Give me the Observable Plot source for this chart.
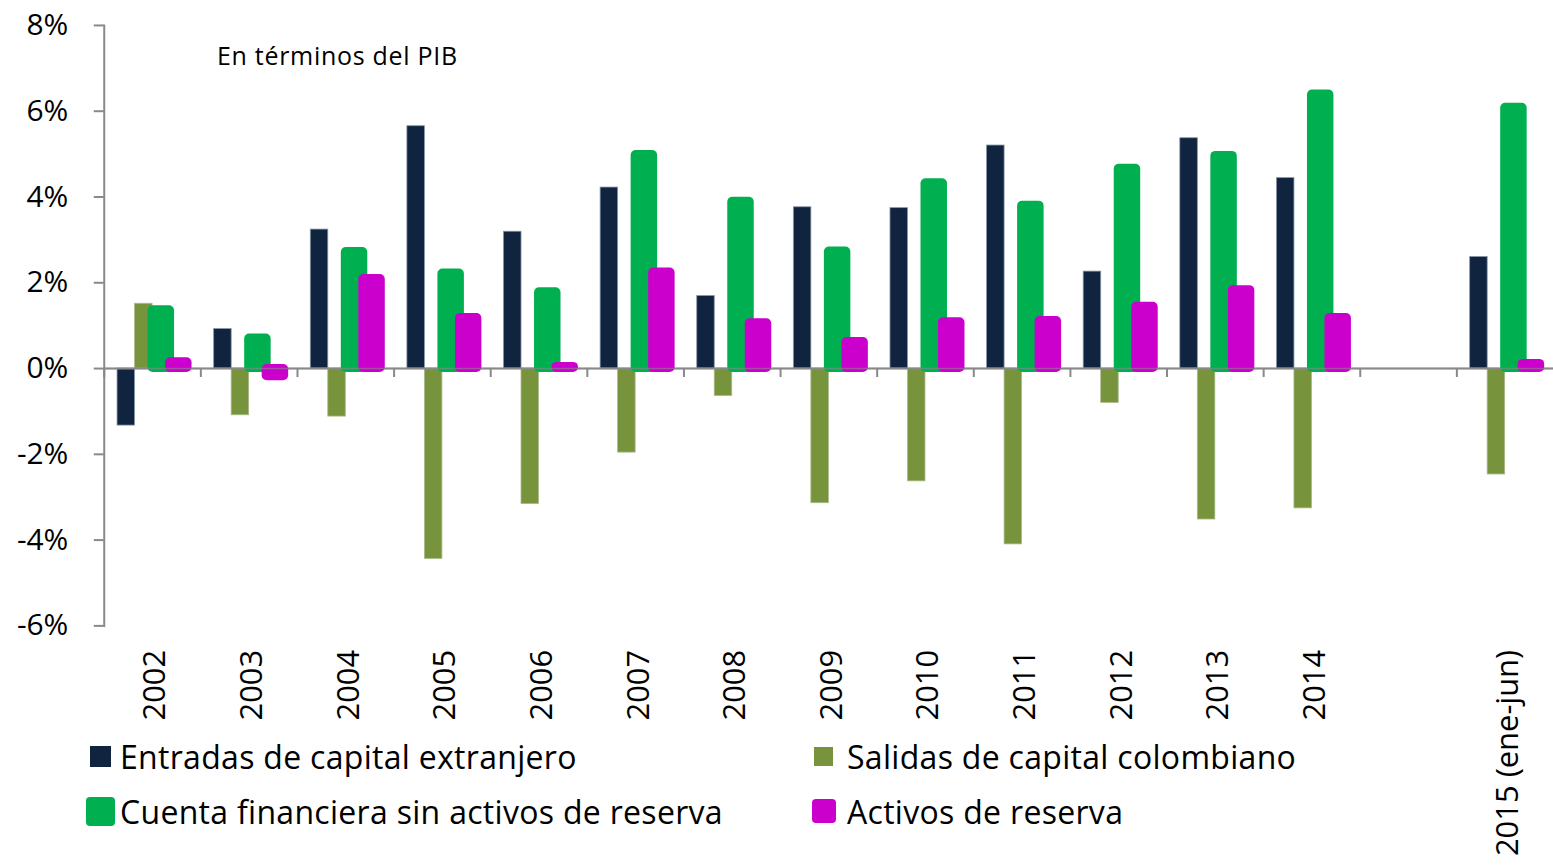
<!DOCTYPE html>
<html>
<head>
<meta charset="utf-8">
<script src="https://cdn.jsdelivr.net/npm/d3@7"></script>
<script src="https://cdn.jsdelivr.net/npm/@observablehq/plot@0.6"></script>
<style>
  html, body { margin: 0; padding: 0; background: #fff; overflow: hidden; }
  #wrap { position: relative; width: 1553px; height: 865px; overflow: hidden; font-family: "Open Sans", sans-serif; color: #000; }
  #subtitle { position: absolute; left: 217px; top: 38px; font-size: 25px; letter-spacing: 0.7px; white-space: nowrap; }
  .leg { position: absolute; font-size: 32px; letter-spacing: 0.3px; white-space: nowrap; display: flex; align-items: center; }
  .sw { display: inline-block; }
</style>
</head>
<body>
<div id="wrap">
  <div id="chart"></div>
  <div id="subtitle">En términos del PIB</div>
  <div id="legend"></div>
</div>
<script>
const categories = ["2002","2003","2004","2005","2006","2007","2008","2009","2010","2011","2012","2013","2014"," ","2015 (ene-jun)"];
const series = ["Entradas de capital extranjero","Salidas de capital colombiano","Cuenta financiera sin activos de reserva","Activos de reserva"];
const colors = ["#10243F","#77933C","#00B050","#CC00CC"];
const entradas = [-1.33,0.92,3.24,5.65,3.19,4.22,1.69,3.76,3.74,5.20,2.26,5.37,4.44,null,2.60];
const salidas  = [1.51,-1.09,-1.12,-4.44,-3.16,-1.96,-0.64,-3.14,-2.63,-4.10,-0.80,-3.52,-3.26,null,-2.47];
const cuenta   = [1.37,0.71,2.73,2.23,1.79,4.99,3.90,2.74,4.33,3.81,4.67,4.97,6.40,null,6.09];
const activos  = [0.16,-0.19,2.10,1.19,0.05,2.25,1.07,0.63,1.09,1.12,1.45,1.84,1.19,null,0.12];
const yTicks = [-6,-4,-2,0,2,4,6,8];
const seriesValues = [entradas, salidas, cuenta, activos];

const W = 1557, H = 865, mL = 104, mR = 0, mT = 25, mB = 238;

// outer (category) and inner (series) band scales
const xOpts = {type: "band", domain: categories, padding: 0, round: false};
const xScale = Plot.scale({x: {...xOpts, range: [mL, W - mR]}});
const bw = xScale.bandwidth;
const inner = d3.scaleBand().domain(series).range([0, bw]).paddingInner(0).paddingOuter(0.76);

const rows = [];
categories.forEach((c, i) => {
  series.forEach((s, j) => {
    const v = seriesValues[j][i];
    if (v != null) rows.push({cat: c, series: s, value: v});
  });
});

const marks = [];
series.forEach((s, j) => {
  const left = inner(s), right = bw - inner(s) - inner.bandwidth();
  const rounded = j >= 2;
  const ext = rounded ? 4.5 : 0;
  marks.push(Plot.barY(rows.filter(r => r.series === s), {
    x: "cat", y: "value",
    fill: colors[j],
    stroke: j === 0 ? "#8794a6" : (j === 1 ? "#a9b98a" : "none"),
    strokeWidth: rounded ? 0 : 0.8,
    insetLeft: left - ext, insetRight: right - ext,
    insetTop: rounded ? -4 : 0, insetBottom: rounded ? -4 : 0,
    rx: rounded ? 5 : 0
  }));
  if (j === 1) marks.push(Plot.ruleY([0], {stroke: "#898989", strokeWidth: 2}));
});
marks.push(Plot.ruleX(categories, {x: d => d, dx: -bw / 2, y1: 0, y2: 0, insetBottom: -9, stroke: "#898989", strokeWidth: 2}));

const chart = Plot.plot({
  width: W, height: H,
  marginLeft: mL, marginRight: mR, marginTop: mT, marginBottom: mB,
  style: {fontFamily: "Open Sans, sans-serif", color: "#000", background: "#fff"},
  x: {...xOpts, axis: null},
  y: {domain: [-6, 8], ticks: yTicks, axis: null},
  marks: [
    ...marks,
    Plot.ruleY([0], {stroke: "#898989", strokeWidth: 1.5, strokeOpacity: 0.6}),
    Plot.frame({anchor: "left", stroke: "#898989", strokeWidth: 2}),
    Plot.axisY(yTicks, {
      tickSize: 10, tickPadding: 26, tickFormat: d => d + "%", label: null,
      fontSize: 30, stroke: "#898989", strokeWidth: 2, fill: "#000"
    }),
    Plot.axisX({
      anchor: "bottom", tickSize: 0, tickPadding: 24, rotate: -90, textAnchor: "end",
      lineAnchor: "middle", dx: 3, fontSize: 31, fill: "#000", label: null
    })
  ]
});
document.getElementById("chart").appendChild(chart);

// legend
const legendItems = [
  {s: 0, left: 90, top: 736, sw: 21, r: 0, gap: 9},
  {s: 1, left: 814, top: 736, sw: 19, r: 0, gap: 14},
  {s: 2, left: 86, top: 791, sw: 29, r: 4, gap: 5},
  {s: 3, left: 812, top: 791, sw: 24, r: 4, gap: 11}
];
const leg = document.getElementById("legend");
legendItems.forEach(it => {
  const d = document.createElement("div");
  d.className = "leg";
  d.style.left = it.left + "px";
  d.style.top = it.top + "px";
  d.style.height = "40px";
  const sw = document.createElement("span");
  sw.className = "sw";
  sw.style.width = it.sw + "px";
  sw.style.height = it.sw + "px";
  sw.style.background = colors[it.s];
  sw.style.borderRadius = it.r + "px";
  sw.style.marginRight = it.gap + "px";
  d.appendChild(sw);
  const t = document.createElement("span");
  t.textContent = series[it.s];
  d.appendChild(t);
  leg.appendChild(d);
});
</script>
</body>
</html>
